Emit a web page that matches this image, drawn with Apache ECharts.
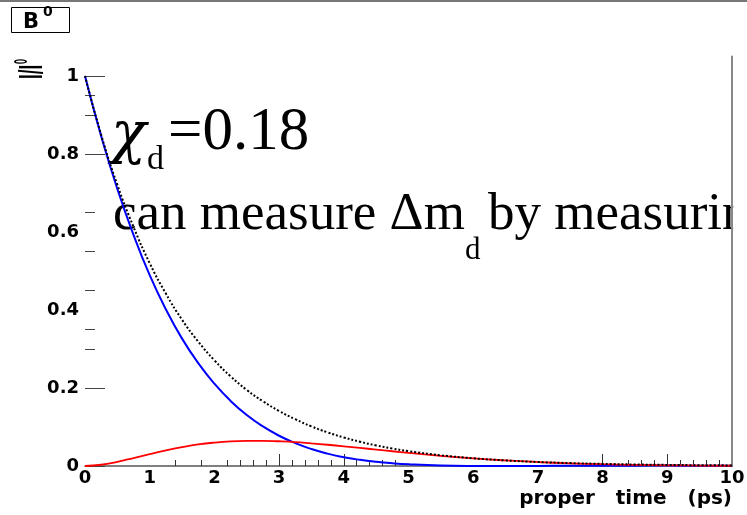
<!DOCTYPE html>
<html>
<head>
<meta charset="utf-8">
<script src="https://cdn.jsdelivr.net/npm/echarts@6/dist/echarts.min.js"></script>
<style>
  html, body { margin: 0; padding: 0; background: #fff; }
  #chart { width: 747px; height: 515px; }
</style>
</head>
<body>
<div id="chart"></div>
<script>
// Proper-time samples (ps)
const times = [0, 0.25, 0.5, 0.75, 1, 1.25, 1.5, 1.75, 2, 2.25, 2.5, 2.75, 3, 3.25, 3.5, 3.75,
  4, 4.25, 4.5, 4.75, 5, 5.5, 6, 6.5, 7, 7.5, 8, 8.5, 9, 9.5, 10];

// Total decay (dotted black)
const totalDecay = [1, 0.849, 0.721, 0.613, 0.520, 0.442, 0.375, 0.319, 0.271, 0.230, 0.195, 0.166,
  0.141, 0.120, 0.1015, 0.0862, 0.0732, 0.0622, 0.0528, 0.0448, 0.0381, 0.0275, 0.0198, 0.0143,
  0.0103, 0.0074, 0.0054, 0.0039, 0.0028, 0.0020, 0.0015];

// Unmixed B0 (blue)
const unmixed = [1, 0.8458, 0.7102, 0.5925, 0.4894, 0.4018, 0.3266, 0.2638, 0.2110, 0.1669, 0.1306,
  0.1014, 0.0776, 0.0587, 0.0435, 0.0317, 0.0227, 0.0158, 0.0107, 0.0070, 0.0044, 0.0013, 0.0002,
  0.0000, 0.0002, 0.0005, 0.0008, 0.0009, 0.0010, 0.0009, 0.0009];

// Mixed B0 -> B0bar (red)
const mixed = [0, 0.0032, 0.0108, 0.0205, 0.0306, 0.0402, 0.0484, 0.0552, 0.0600, 0.0631, 0.0644,
  0.0646, 0.0634, 0.0613, 0.0580, 0.0545, 0.0505, 0.0464, 0.0421, 0.0378, 0.0337, 0.0262, 0.0196,
  0.0143, 0.0101, 0.0069, 0.0046, 0.0030, 0.0018, 0.0011, 0.0006];

// Axis ticks and labels
const xMajorTicks = [3, 4, 8, 9];
const xMinorTicks = [1.4, 1.8, 2.2, 2.4, 2.6, 2.8, 3.2, 3.4, 3.6, 3.8, 4.2, 4.4, 4.6, 4.8,
  8.4, 8.6, 8.8, 9.2, 9.4, 9.6, 9.8];
const yLabels = [0, 0.2, 0.4, 0.6, 0.8, 1];
const yMajorTicks = [0, 0.2, 0.8, 1];
const yMinorTicks = [0.3, 0.35, 0.45, 0.55, 0.65, 0.9, 0.95];

const pairs = (ys) => times.map((t, i) => [t, ys[i]]);

const labelFont = { fontFamily: 'DejaVu Sans', fontWeight: 'bold', fontSize: 18, color: '#000' };
const serif = '"Liberation Serif", "Times New Roman", serif';

const chart = echarts.init(document.getElementById('chart'));
chart.setOption({
  animation: false,
  backgroundColor: '#fff',
  grid: { left: 85, right: 15, top: 56.5, bottom: 49, containLabel: false, outerBoundsMode: 'none' },
  xAxis: [
    {
      type: 'value', min: 0, max: 10, interval: 1,
      splitLine: { show: false },
      axisLine: { show: true, lineStyle: { color: '#555', width: 1.5 } },
      axisTick: { show: true, inside: true, length: 12, customValues: xMajorTicks,
        lineStyle: { color: '#333', width: 1 } },
      axisLabel: Object.assign({ margin: 3 }, labelFont),
      name: 'proper   time   (ps)',
      nameLocation: 'end',
      nameGap: 0,
      nameTextStyle: { fontFamily: 'DejaVu Sans', fontWeight: 'bold', fontSize: 20, color: '#000',
        align: 'right', verticalAlign: 'top', padding: [23, 0, 0, 0] }
    },
    {
      type: 'value', min: 0, max: 10, position: 'bottom',
      splitLine: { show: false }, axisLine: { show: false }, axisLabel: { show: false },
      axisTick: { show: true, inside: true, length: 6, customValues: xMinorTicks,
        lineStyle: { color: '#333', width: 1 } }
    }
  ],
  yAxis: [
    {
      type: 'value', min: 0, max: 1.05, position: 'left',
      splitLine: { show: false },
      axisLine: { show: false },
      axisTick: { show: true, inside: true, length: 20, customValues: yMajorTicks,
        lineStyle: { color: '#444', width: 1 } },
      axisLabel: Object.assign({ margin: 6, customValues: yLabels }, labelFont)
    },
    {
      type: 'value', min: 0, max: 1.05, position: 'left',
      splitLine: { show: false }, axisLine: { show: false }, axisLabel: { show: false },
      axisTick: { show: true, inside: true, length: 10, customValues: yMinorTicks,
        lineStyle: { color: '#444', width: 1 } }
    },
    {
      type: 'value', min: 0, max: 1.05, position: 'right',
      splitLine: { show: false }, axisTick: { show: false }, axisLabel: { show: false },
      axisLine: { show: true, lineStyle: { color: '#888', width: 2 } }
    }
  ],
  series: [
    {
      name: 'unmixed', type: 'line', data: pairs(unmixed), showSymbol: false, smooth: true,
      lineStyle: { color: '#0000ff', width: 2 }, z: 2
    },
    {
      name: 'mixed', type: 'line', data: pairs(mixed), showSymbol: false, smooth: true,
      lineStyle: { color: '#ff0000', width: 1.8 }, z: 3
    },
    {
      name: 'total', type: 'line', data: pairs(totalDecay), showSymbol: false, smooth: true,
      lineStyle: { color: '#000', width: 2, type: [2, 2] }, z: 4
    }
  ],
  graphic: [
    // frame line along the top edge
    { type: 'rect', shape: { x: 0, y: 0, width: 747, height: 2 }, style: { fill: '#777' }, silent: true },
    // title box
    { type: 'rect', shape: { x: 11.5, y: 7.5, width: 58, height: 25 },
      style: { fill: '#fff', stroke: '#000', lineWidth: 1 } },
    { type: 'text', x: 23, y: 22.5, style: { text: 'B', fontFamily: 'DejaVu Sans', fontWeight: 'bold',
      fontSize: 21, fill: '#000', align: 'left', verticalAlign: 'middle' } },
    { type: 'text', x: 43, y: 12.5, style: { text: '0', fontFamily: 'DejaVu Sans', fontWeight: 'bold',
      fontSize: 14, fill: '#000', align: 'left', verticalAlign: 'middle' } },
    // y-axis title, rotated
    { type: 'group', x: 33, y: 79, rotation: Math.PI / 2, scaleX: 1, scaleY: 2, children: [
      { type: 'text', x: 0, y: 0, style: { text: 'I/I', fontFamily: '"Liberation Sans", Arial, sans-serif',
        fontWeight: 'bold', fontSize: 17, fill: '#000', align: 'left', verticalAlign: 'middle' } },
      { type: 'text', x: 15, y: -5.5, style: { text: '0', fontFamily: '"Liberation Sans", Arial, sans-serif',
        fontWeight: 'bold', fontSize: 9, fill: '#000', align: 'left', verticalAlign: 'middle' } }
    ] },
    // chi_d annotation
    { type: 'text', x: 111, y: 137, style: { text: 'χ', fontFamily: '"DejaVu Serif", serif', fontStyle: 'italic',
      fontSize: 58, fill: '#000', align: 'left', verticalAlign: 'middle' } },
    { type: 'text', x: 147, y: 160, style: { text: 'd', fontFamily: serif, fontSize: 34, fill: '#000',
      align: 'left', verticalAlign: 'middle' } },
    { type: 'text', x: 168, y: 133, style: { text: '=0.18', fontFamily: serif, fontSize: 61, fill: '#000',
      align: 'left', verticalAlign: 'middle' } },
    // second line of annotation
    { type: 'text', x: 113, y: 215.5, style: { text: 'can measure Δm', fontFamily: serif, fontSize: 53,
      fill: '#000', align: 'left', verticalAlign: 'middle' } },
    { type: 'text', x: 465, y: 251, style: { text: 'd', fontFamily: serif, fontSize: 31, fill: '#000',
      align: 'left', verticalAlign: 'middle' } },
    { type: 'text', x: 488, y: 215.5, style: { text: 'by measuring', fontFamily: serif, fontSize: 53,
      fill: '#000', align: 'left', verticalAlign: 'middle' } },
    // text is clipped at the pad edge
    { type: 'rect', shape: { x: 733.2, y: 180, width: 14, height: 100 }, style: { fill: '#fff' }, z: 10 }
  ]
});
</script>
</body>
</html>
